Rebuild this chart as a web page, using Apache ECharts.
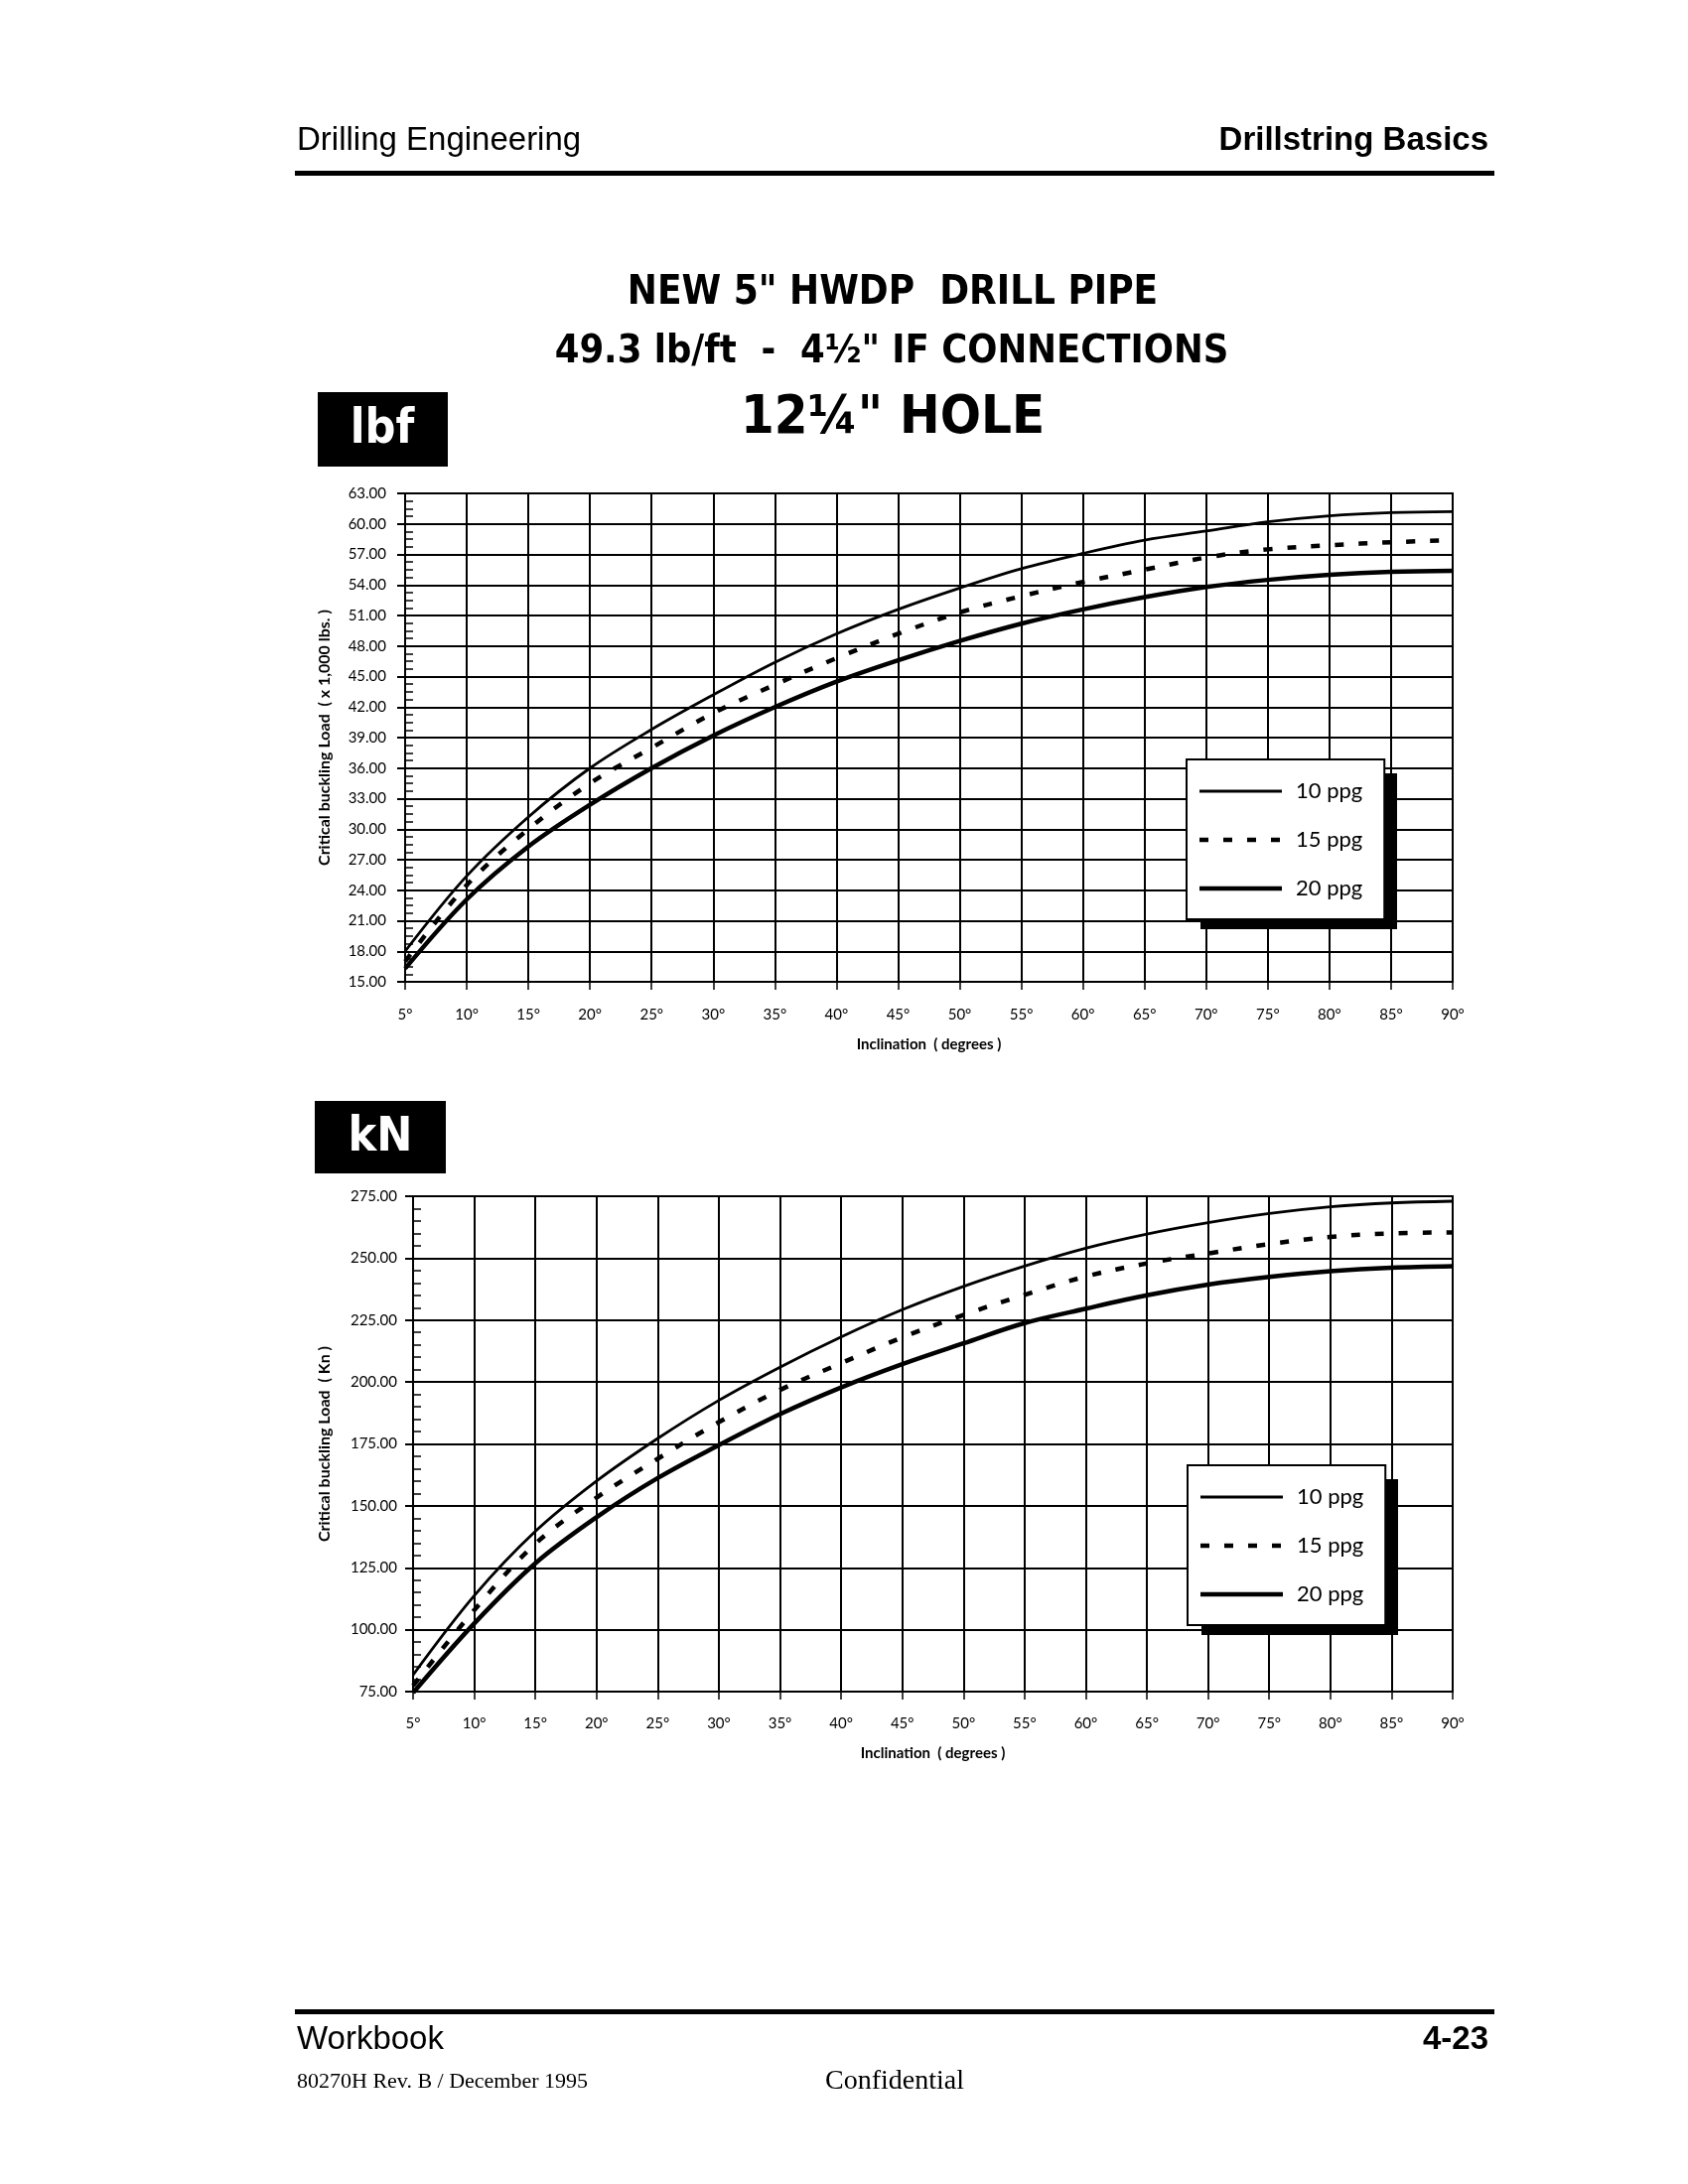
<!DOCTYPE html>
<html>
<head>
<meta charset="utf-8">
<title>NEW 5" HWDP DRILL PIPE - critical buckling load</title>
<script src="https://cdn.jsdelivr.net/npm/echarts@6/dist/echarts.min.js"></script>
<style>
  html, body { margin: 0; padding: 0; background: #fff; }
  #page { width: 1700px; height: 2200px; }
</style>
</head>
<body>
<div id="page"></div>
<script>
// inclination of the hole, degrees
var inclination = [5, 10, 15, 20, 25, 30, 35, 40, 45, 50, 55, 60, 65, 70, 75, 80, 85, 90];

// critical buckling load, x 1,000 lbs
var lbf10 = [18.0, 25.4, 31.2, 36.0, 39.8, 43.2, 46.4, 49.2, 51.6, 53.7, 55.6, 57.1, 58.4, 59.3, 60.2, 60.8, 61.1, 61.2];
var lbf15 = [17.0, 24.5, 30.0, 34.5, 38.0, 41.4, 44.2, 46.8, 49.2, 51.3, 52.9, 54.3, 55.5, 56.7, 57.5, 57.9, 58.2, 58.4];
var lbf20 = [16.3, 23.1, 28.3, 32.4, 36.0, 39.2, 42.0, 44.5, 46.6, 48.5, 50.2, 51.6, 52.8, 53.8, 54.5, 55.0, 55.3, 55.4];

// critical buckling load, kN
var kn10 = [81.7, 113.7, 139.7, 160.0, 177.2, 192.6, 206.0, 218.2, 229.2, 238.6, 246.8, 254.0, 259.7, 264.3, 268.0, 270.7, 272.3, 273.0];
var kn15 = [77.4, 107.9, 134.7, 153.3, 169.0, 183.8, 196.8, 207.6, 218.0, 227.1, 235.2, 242.6, 247.9, 251.9, 255.7, 258.6, 260.0, 260.4];
var kn20 = [74.5, 102.5, 126.8, 145.4, 161.2, 174.5, 187.0, 197.8, 207.2, 215.6, 223.8, 229.6, 235.0, 239.3, 242.4, 244.7, 246.1, 246.7];

var mudWeights = ['10 ppg', '15 ppg', '20 ppg'];

// axis ranges: min, max, step
var lbfAxis = [15, 63, 3];
var knAxis = [75, 275, 25];
var incAxis = [5, 90, 5];

var chartFont = 'Lato, "Noto Sans", sans-serif';
var narrowFont = '"Liberation Sans Narrow", "DejaVu Sans Condensed", "Liberation Sans", sans-serif';

function pairs(ys) {
  return inclination.map(function (x, i) { return [x, ys[i]]; });
}

var lineStyles = [
  { color: '#000', width: 2.8, type: 'solid' },
  { color: '#000', width: 4.5, type: [9, 15], cap: 'butt' },
  { color: '#000', width: 4.5, type: 'solid' }
];

// legend keys: 83 x 14 box, line drawn in the middle
var legendIcons = [
  'path://M0,0M83,14M0,5.6h83v2.8h-83z',
  'path://M0,0M83,14M0,4.75h9v4.5h-9zM24,4.75h9v4.5h-9zM48,4.75h9v4.5h-9zM72,4.75h9v4.5h-9z',
  'path://M0,0M83,14M0,4.75h83v4.5h-83z'
];

function makeSeries(sets, gi) {
  return sets.map(function (ys, i) {
    return {
      name: mudWeights[i],
      type: 'line',
      xAxisIndex: gi,
      yAxisIndex: gi * 2,
      data: pairs(ys),
      smooth: 0.35,
      symbol: 'none',
      showSymbol: false,
      silent: true,
      lineStyle: lineStyles[i],
      itemStyle: { color: '#000' },
      z: 3
    };
  });
}

function xAxisFor(gi, nameGap, margin) {
  return {
    type: 'value',
    gridIndex: gi,
    min: incAxis[0], max: incAxis[1], interval: incAxis[2],
    name: 'Inclination  ( degrees )',
    nameLocation: 'middle',
    nameGap: nameGap,
    nameTextStyle: { fontFamily: chartFont, fontWeight: 'bold', fontSize: 15, color: '#000' },
    axisLine: { show: true, onZero: false, lineStyle: { color: '#000', width: 2 } },
    axisTick: { show: true, length: 8, lineStyle: { color: '#000', width: 1.5 } },
    axisLabel: { margin: margin, fontFamily: chartFont, fontSize: 15, color: '#000',
      formatter: function (v) { return v + '°'; } },
    splitLine: { show: true, lineStyle: { color: '#000', width: 2 } }
  };
}

function yAxesFor(gi, ax, name, nameGap, margin, minorSplit) {
  return [{
    type: 'value',
    gridIndex: gi,
    min: ax[0], max: ax[1], interval: ax[2],
    name: name,
    nameLocation: 'middle',
    nameRotate: 90,
    nameGap: nameGap,
    nameTextStyle: { fontFamily: chartFont, fontWeight: 'bold', fontSize: 16, color: '#000' },
    axisLine: { show: true, onZero: false, lineStyle: { color: '#000', width: 2 } },
    axisTick: { show: true, length: 8, lineStyle: { color: '#000', width: 2 } },
    axisLabel: { margin: margin, fontFamily: chartFont, fontSize: 15, color: '#000',
      formatter: function (v) { return v.toFixed(2); } },
    splitLine: { show: true, lineStyle: { color: '#000', width: 2 } }
  }, {
    // inside minor ticks only
    type: 'value',
    gridIndex: gi,
    position: 'left',
    min: ax[0], max: ax[1], interval: ax[2],
    axisLine: { show: false },
    axisTick: { show: false, inside: true },
    axisLabel: { show: false },
    splitLine: { show: false },
    minorTick: { show: true, splitNumber: minorSplit, length: 8, lineStyle: { color: '#000', width: 1.5 } }
  }];
}

var legendBoxes = [
  { left: 1195, top: 765, w: 198, h: 157 },
  { left: 1196, top: 1476, w: 198, h: 157 }
];

function legendFor(b) {
  return {
    data: mudWeights.map(function (n, i) { return { name: n, icon: legendIcons[i] }; }),
    orient: 'vertical',
    left: b.left,
    top: b.top,
    itemWidth: 83,
    itemHeight: 14,
    itemGap: 27,
    padding: [21, 22, 20, 13],
    backgroundColor: '#fff',
    borderColor: '#000',
    borderWidth: 2,
    borderRadius: 0,
    selectedMode: false,
    itemStyle: { color: '#000', borderWidth: 0 },
    textStyle: { fontFamily: chartFont, fontSize: 22, color: '#000', padding: [0, 0, 0, 9] },
    z: 6
  };
}

function txt(text, x, y, size, opts) {
  opts = opts || {};
  return {
    type: 'text',
    x: x, y: y,
    silent: true,
    style: {
      text: text,
      font: (opts.weight || 'normal') + ' ' + size + 'px ' + (opts.family || '"Liberation Sans", Arial, sans-serif'),
      fill: opts.fill || '#000',
      textAlign: opts.align || 'left',
      align: opts.align || 'left',
      textVerticalAlign: 'middle',
      verticalAlign: 'middle'
    },
    z: opts.z || 10
  };
}

function box(x, y, w, h, fill, z) {
  return { type: 'rect', silent: true, shape: { x: x, y: y, width: w, height: h }, style: { fill: fill }, z: z || 10 };
}

var serif = '"Liberation Serif", "Times New Roman", serif';

var graphics = [
  // page header
  txt('Drilling Engineering', 299, 142, 33),
  txt('Drillstring Basics', 1499, 142, 33, { weight: 'bold', align: 'right' }),
  box(297, 172, 1208, 5, '#000'),
  // title block
  txt('NEW 5" HWDP  DRILL PIPE', 899, 296, 40, { weight: 'bold', align: 'center', family: narrowFont }),
  txt('49.3 lb/ft  -  4½" IF CONNECTIONS', 898, 355, 39.5, { weight: 'bold', align: 'center', family: narrowFont }),
  txt('12¼" HOLE', 899, 422, 54, { weight: 'bold', align: 'center', family: narrowFont }),
  // unit tags
  box(320, 395, 131, 75, '#000'),
  txt('lbf', 385, 434, 48, { weight: 'bold', align: 'center', fill: '#fff', family: narrowFont, z: 11 }),
  box(317, 1109, 132, 73, '#000'),
  txt('kN', 383, 1147, 48, { weight: 'bold', align: 'center', fill: '#fff', family: narrowFont, z: 11 }),
  // legend drop shadows
  box(legendBoxes[0].left + 14, legendBoxes[0].top + 14, legendBoxes[0].w, legendBoxes[0].h, '#000', 5),
  box(legendBoxes[1].left + 14, legendBoxes[1].top + 14, legendBoxes[1].w, legendBoxes[1].h, '#000', 5),
  // page footer
  box(297, 2024, 1208, 5, '#000'),
  txt('Workbook', 299, 2055, 33),
  txt('4-23', 1499, 2055, 33, { weight: 'bold', align: 'right' }),
  txt('80270H Rev. B / December 1995', 299, 2097, 22, { family: serif }),
  txt('Confidential', 831, 2097, 28, { family: serif })
];

var chart = echarts.init(document.getElementById('page'), null, { renderer: 'canvas' });

var option = {
  backgroundColor: '#fff',
  animation: false,
  textStyle: { fontFamily: chartFont, color: '#000' },
  grid: [
    { left: 408, top: 497, width: 1055, height: 492, show: true, borderColor: '#000', borderWidth: 2, backgroundColor: 'transparent', outerBoundsMode: 'none' },
    { left: 416, top: 1205, width: 1047, height: 499, show: true, borderColor: '#000', borderWidth: 2, backgroundColor: 'transparent', outerBoundsMode: 'none' }
  ],
  xAxis: [xAxisFor(0, 56, 26), xAxisFor(1, 55, 25)],
  yAxis: yAxesFor(0, lbfAxis, 'Critical buckling Load  ( x 1,000 lbs. )', 73, 19, 4)
    .concat(yAxesFor(1, knAxis, 'Critical buckling Load  ( Kn )', 81, 16, 5)),
  legend: [legendFor(legendBoxes[0]), legendFor(legendBoxes[1])],
  graphic: { elements: graphics },
  series: makeSeries([lbf10, lbf15, lbf20], 0).concat(makeSeries([kn10, kn15, kn20], 1))
};

chart.setOption(option);
</script>
</body>
</html>
